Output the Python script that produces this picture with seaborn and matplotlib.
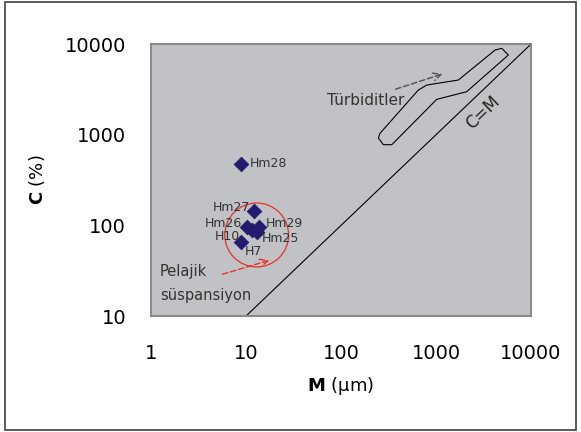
import numpy as np
import pandas as pd
import matplotlib
matplotlib.use("Agg")
import matplotlib.pyplot as plt
import seaborn as sns
from matplotlib.patches import Ellipse, Polygon, Rectangle

# sample points (M in um, C in %)
samples = ["Hm28", "Hm27", "Hm26", "Hm29", "Hm25", "H10", "H7"]
m_vals = [8.8, 12.1, 10.2, 13.7, 12.9, 11.5, 8.9]
c_vals = [480, 145, 95, 97, 84, 88, 66]
# label offsets in points
lbl_dx = [6.5, -3, -3.4, 5, 4, -8.4, 2.5]
lbl_dy = [0, 2, 3, 2.4, -4.3, -4.1, -7.2]
lbl_ha = ["left", "right", "right", "left", "left", "right", "left"]

# C=M reference line
cm_line = [10, 10000]

# turbidite field outline
turb_m = [257, 651, 798, 1718, 4180, 4920, 5770, 2100, 1017, 342, 279, 247]
turb_c = [1035, 3110, 3530, 4010, 8590, 8970, 7570, 2980, 2455, 776, 776, 920]

ticks = [1, 10, 100, 1000, 10000]
xticklabels = ["1", "10", "100", "1000", "10000"]
yticks = [10, 100, 1000, 10000]
yticklabels = ["10", "100", "1000", "10000"]

df = pd.DataFrame({"M": m_vals, "C": c_vals, "sample": samples})

fig = plt.figure(figsize=(5.81, 4.32), dpi=100)
fig.patches.append(Rectangle((0.009, 0.005), 0.982, 0.99, transform=fig.transFigure,
                             fill=False, edgecolor="#404040", lw=1.2))
ax = fig.add_axes([0.26, 0.2685, 0.654, 0.6295])
ax.set_facecolor("#c1c2c6")

ax.plot(cm_line, cm_line, color="black", lw=0.8, zorder=2)
ax.add_patch(Polygon(list(zip(turb_m, turb_c)), closed=True, fill=False,
                     edgecolor="black", lw=0.8, joinstyle="round", zorder=2))

sns.scatterplot(data=df, x="M", y="C", marker="D", s=55, color="#221b6e",
                edgecolor="#221b6e", ax=ax, zorder=4, legend=False)

for i, s in enumerate(samples):
    ax.annotate(s, (m_vals[i], c_vals[i]), xytext=(lbl_dx[i], lbl_dy[i]),
                textcoords="offset points", ha=lbl_ha[i], va="center",
                fontsize=9, color="#333333", zorder=5)

ax.add_patch(Ellipse((0.278, 0.298), 0.168, 0.235, transform=ax.transAxes,
                     fill=False, edgecolor="#e8302a", lw=0.9, zorder=3))
ax.annotate("", xy=(18.7, 42), xytext=(5.3, 28.3),
            arrowprops=dict(arrowstyle="->", color="#e8302a", lw=1.0,
                            linestyle=(0, (4, 2)), mutation_scale=14))
ax.text(1.24, 23, "Pelajik\nsüspansiyon", fontsize=10.5, color="#333333",
        va="center", ha="left", linespacing=1.75)

ax.annotate("", xy=(1245, 4790), xytext=(352, 3110),
            arrowprops=dict(arrowstyle="->", color="#505050", lw=1.0,
                            linestyle=(0, (4, 2)), mutation_scale=14))
ax.text(71, 2355, "Türbiditler", fontsize=11, color="#333333", va="center", ha="left")
ax.text(3100, 1750, "C=M", fontsize=12, color="#222222", rotation=44,
        ha="center", va="center")

ax.set_xscale("log")
ax.set_yscale("log")
ax.set_xlim(1, 10000)
ax.set_ylim(10, 10000)
ax.set_xticks(ticks)
ax.set_xticklabels(xticklabels)
ax.set_yticks(yticks)
ax.set_yticklabels(yticklabels)
ax.minorticks_off()
ax.tick_params(axis="both", length=0, labelsize=14)
ax.tick_params(axis="x", pad=20)
ax.tick_params(axis="y", pad=18)
for sp in ax.spines.values():
    sp.set_color("#8a8a8a")
    sp.set_linewidth(1.5)

ax.set_xlabel(r"$\mathbf{M}$ (μm)", fontsize=13, labelpad=9)
ax.set_ylabel(r"$\mathbf{C}$ (%)", fontsize=13, labelpad=13)

fig.savefig("out.png", dpi=100)
